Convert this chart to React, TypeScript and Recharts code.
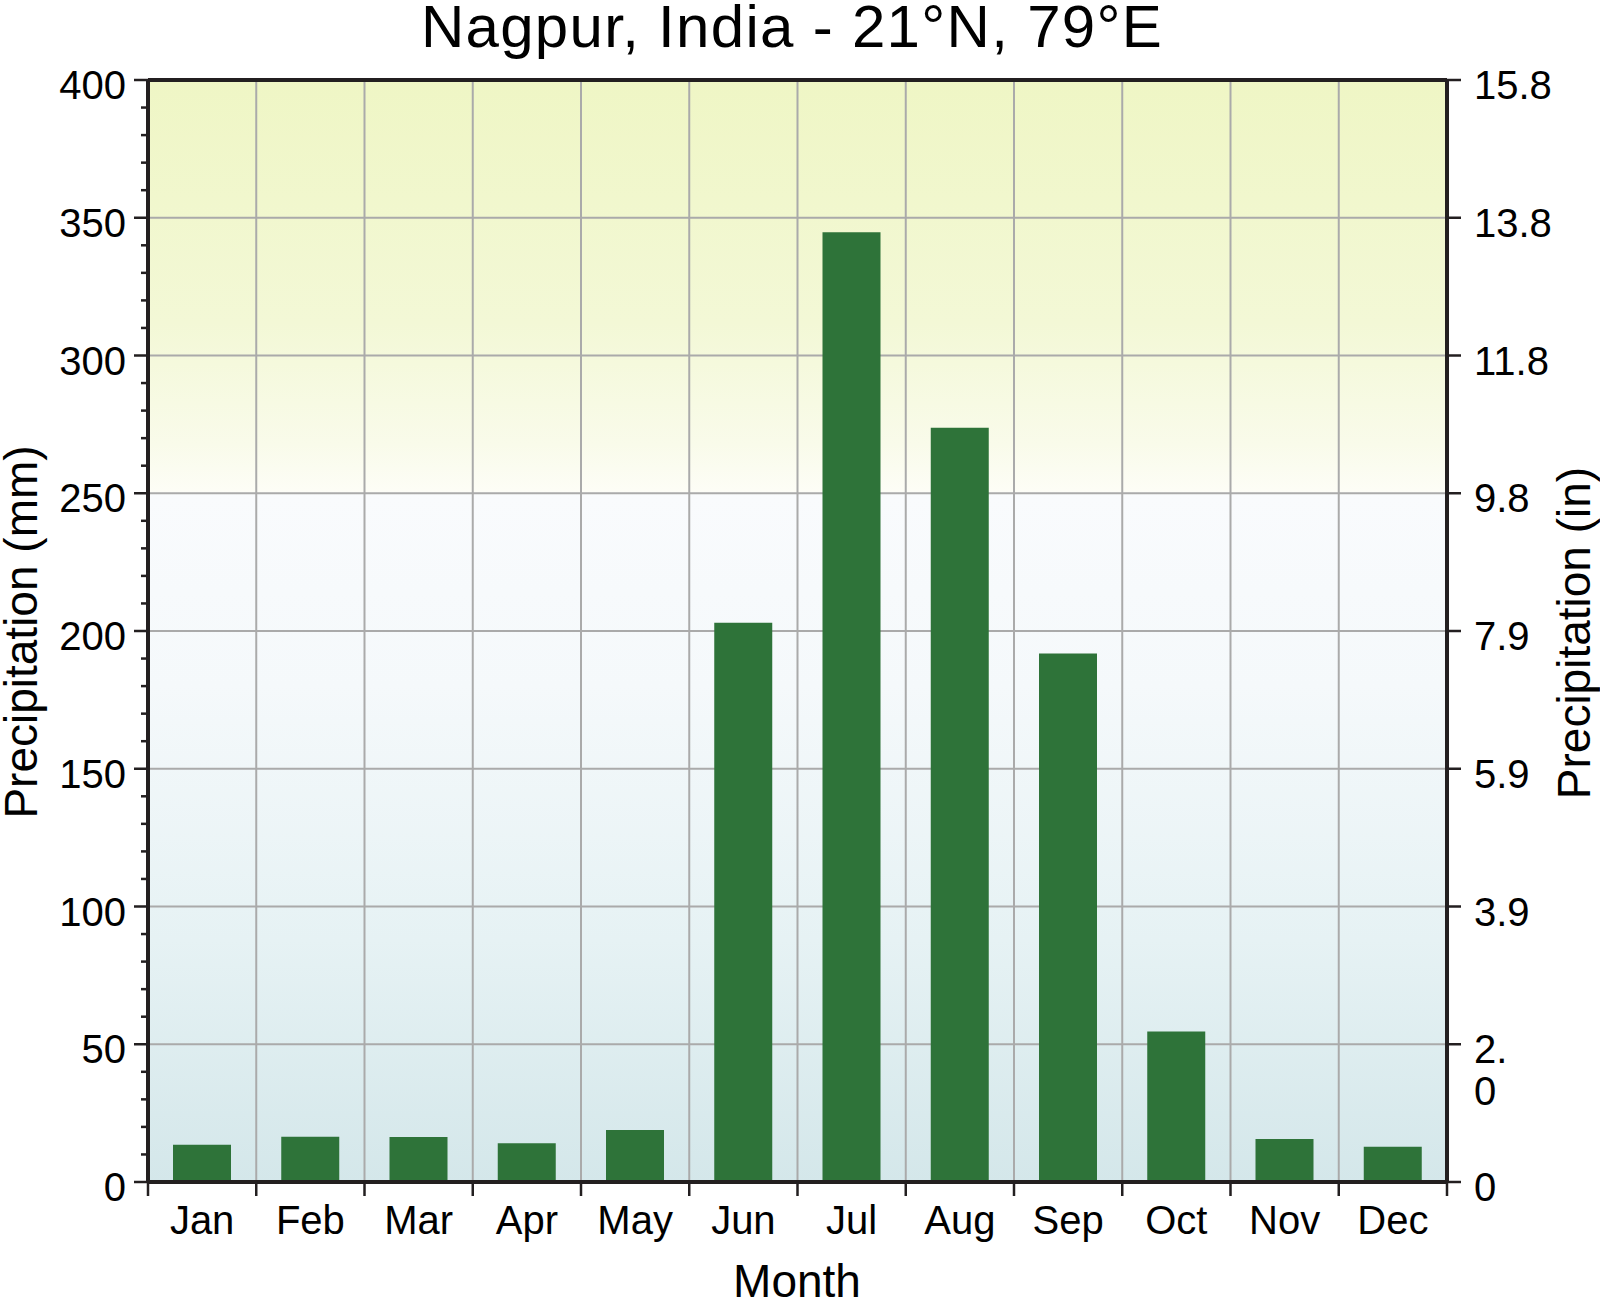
import React from 'react';
import { BarChart, Bar, XAxis, YAxis, CartesianGrid, ReferenceLine } from 'recharts';

// monthly precipitation, Nagpur (mm)
const months = ['Jan', 'Feb', 'Mar', 'Apr', 'May', 'Jun', 'Jul', 'Aug', 'Sep', 'Oct', 'Nov', 'Dec'];
const precipMm = [13.5, 16.4, 16.3, 14.1, 18.9, 203, 344.7, 273.8, 191.8, 54.6, 15.6, 12.8];

const mmTicks = [0, 50, 100, 150, 200, 250, 300, 350, 400];
const mmMinorTicks = [
  0, 10, 20, 30, 40, 50, 60, 70, 80, 90, 100, 110, 120, 130, 140, 150, 160, 170, 180, 190, 200,
  210, 220, 230, 240, 250, 260, 270, 280, 290, 300, 310, 320, 330, 340, 350, 360, 370, 380, 390, 400,
];
// the source wraps "2.0" over two lines
const inchTickLabels = ['0', '2.\n0', '3.9', '5.9', '7.9', '9.8', '11.8', '13.8', '15.8'];

const data = months.map((month, i) => ({ month, mm: precipMm[i] }));

const W = 1600;
const H = 1302;
const LEFT_W = 148;
const RIGHT_W = 153;
const TOP = 80;
const X_H = 120;
const BAND = (W - LEFT_W - RIGHT_W) / months.length;

const AXIS = '#231f20';
const GRID = '#aaaaaa';
const BAR = '#2e7339';
const FONT = '"Liberation Sans", Arial, Helvetica, sans-serif';

const LeftTick = (props: any) => {
  const { x, y, payload } = props;
  const major = payload.value % 50 === 0;
  return (
    <g>
      <line x1={x} x2={x - (major ? 14 : 7)} y1={y} y2={y} stroke={AXIS} strokeWidth={2.5} />
      {major && (
        <text x={x - 22} y={y + 19} textAnchor="end" fontSize={40} fill="#000">
          {payload.value}
        </text>
      )}
    </g>
  );
};

const RightTick = (props: any) => {
  const { x, y, payload } = props;
  const label = inchTickLabels[mmTicks.indexOf(payload.value)] ?? '';
  return (
    <g>
      <line x1={x} x2={x + 14} y1={y} y2={y} stroke={AXIS} strokeWidth={2.5} />
      <text x={x + 27} y={y + 19} textAnchor="start" fontSize={40} fill="#000">
        {label.split('\n').map((s, i) => (
          <tspan key={i} x={x + 27} dy={i === 0 ? 0 : 42}>{s}</tspan>
        ))}
      </text>
    </g>
  );
};

const MonthTick = (props: any) => {
  const { x, y, payload, index } = props;
  return (
    <g>
      <line x1={x - BAND / 2} x2={x - BAND / 2} y1={y} y2={y + 14} stroke={AXIS} strokeWidth={2.5} />
      {index === months.length - 1 && (
        <line x1={x + BAND / 2} x2={x + BAND / 2} y1={y} y2={y + 14} stroke={AXIS} strokeWidth={2.5} />
      )}
      <text x={x} y={y + 52} textAnchor="middle" fontSize={40} fill="#000">
        {payload.value}
      </text>
    </g>
  );
};

const hLines = ({ yAxis, offset }: any) =>
  mmTicks.map(v =>
    yAxis && typeof yAxis.scale === 'function'
      ? yAxis.scale(v)
      : offset.top + offset.height * (1 - v / 400)
  );

const vLines = ({ offset }: any) =>
  months.slice(1).map((_, i) => offset.left + ((i + 1) * offset.width) / months.length);

export default function App() {
  return (
    <div style={{ position: 'absolute', left: 0, top: 0, width: W, height: H, fontFamily: FONT, background: '#fff' }}>
      <svg width={0} height={0} style={{ position: 'absolute' }}>
        <defs>
          <linearGradient id="plotBg" x1="0" y1="0" x2="0" y2="1">
            <stop offset="0%" stopColor="#eff6c5" />
            <stop offset="22%" stopColor="#f3f8d6" />
            <stop offset="33%" stopColor="#f9fbea" />
            <stop offset="37.3%" stopColor="#fdfdf6" />
            <stop offset="37.7%" stopColor="#f9fbfd" />
            <stop offset="55%" stopColor="#f5f9fb" />
            <stop offset="78%" stopColor="#e6f2f4" />
            <stop offset="100%" stopColor="#d4e7ea" />
          </linearGradient>
        </defs>
      </svg>

      <BarChart width={W} height={H} data={data} margin={{ top: TOP, right: 0, bottom: 0, left: 0 }}>
        <CartesianGrid
          yAxisId="mm"
          stroke={GRID}
          strokeWidth={2}
          fill="url(#plotBg)"
          fillOpacity={1}
          horizontalCoordinatesGenerator={hLines}
          verticalCoordinatesGenerator={vLines}
        />
        <XAxis
          dataKey="month"
          height={X_H}
          interval={0}
          tickSize={0}
          tickMargin={0}
          tickLine={false}
          axisLine={{ stroke: AXIS, strokeWidth: 4 }}
          tick={<MonthTick />}
        />
        <YAxis
          yAxisId="mm"
          orientation="left"
          width={LEFT_W}
          domain={[0, 400]}
          allowDataOverflow
          ticks={mmMinorTicks}
          interval={0}
          tickSize={0}
          tickMargin={0}
          tickLine={false}
          axisLine={{ stroke: AXIS, strokeWidth: 4 }}
          tick={<LeftTick />}
        />
        <YAxis
          yAxisId="in"
          orientation="right"
          width={RIGHT_W}
          domain={[0, 400]}
          allowDataOverflow
          type="number"
          ticks={mmTicks}
          interval={0}
          tickSize={0}
          tickMargin={0}
          tickLine={false}
          axisLine={{ stroke: AXIS, strokeWidth: 4 }}
          tick={<RightTick />}
        />
        <Bar yAxisId="mm" dataKey="mm" fill={BAR} barSize={58} isAnimationActive={false} />
        <ReferenceLine yAxisId="mm" y={400} stroke={AXIS} strokeWidth={4} />
      </BarChart>

      <svg
        width={W}
        height={H}
        style={{ position: 'absolute', left: 0, top: 0, pointerEvents: 'none' }}
        fontFamily={FONT}
      >
        <text x={792} y={47} textAnchor="middle" fontSize={60} letterSpacing={1.3} fill="#000">
          Nagpur, India - 21°N, 79°E
        </text>
        <text x={797} y={1297} textAnchor="middle" fontSize={46} fill="#000">
          Month
        </text>
        <text x={37} y={632} textAnchor="middle" fontSize={46} fill="#000" transform="rotate(-90, 37, 632)">
          Precipitation (mm)
        </text>
        <text x={1590} y={633} textAnchor="middle" fontSize={46} fill="#000" transform="rotate(-90, 1590, 633)">
          Precipitation (in)
        </text>
      </svg>
    </div>
  );
}
